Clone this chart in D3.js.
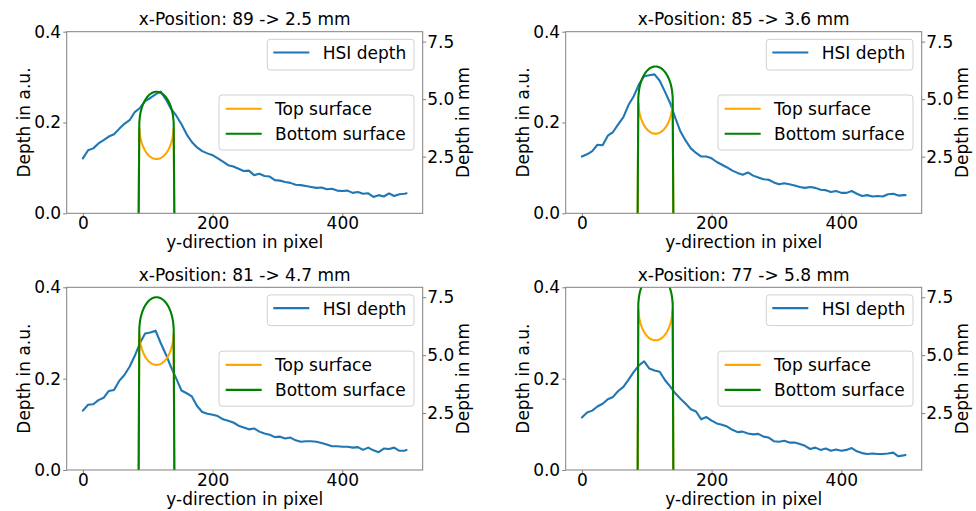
<!DOCTYPE html>
<html><head><meta charset="utf-8">
<script src="https://cdn.jsdelivr.net/npm/d3@7"></script>
<style>
body{margin:0;background:#fff;}
svg text{font-family:"DejaVu Sans",sans-serif;fill:#000;}
</style></head><body>
<svg id="chart" width="976" height="511"></svg>
<script>
// ---------- data ----------
const xPositions = [89, 85, 81, 77];
const depthLabelsMm = [2.5, 3.6, 4.7, 5.8];
const xTicks = [0, 200, 400];
const leftTicks = [0.0, 0.2, 0.4];
const rightTicks = [2.5, 5.0, 7.5];
const pixelGrid = [0,8,16,24,32,40,48,56,64,72,80,88,96,104,112,120,128,136,144,152,160,168,176,184,192,200,208,216,224,232,240,248,256,264,272,280,288,296,304,312,320,328,336,344,352,360,368,376,384,392,400,408,416,424,432,440,448,456,464,472,480,488,496,499];
const hsi89 = [0.121,0.139,0.143,0.154,0.161,0.169,0.174,0.186,0.197,0.205,0.223,0.232,0.247,0.254,0.262,0.268,0.251,0.230,0.215,0.196,0.174,0.157,0.145,0.137,0.132,0.128,0.121,0.114,0.106,0.103,0.098,0.093,0.094,0.084,0.087,0.082,0.081,0.073,0.072,0.069,0.067,0.063,0.062,0.060,0.058,0.056,0.057,0.053,0.054,0.050,0.049,0.050,0.045,0.047,0.043,0.044,0.036,0.040,0.037,0.044,0.038,0.042,0.043,0.044];
const hsi85 = [0.125,0.130,0.137,0.151,0.150,0.171,0.179,0.196,0.212,0.239,0.258,0.284,0.302,0.304,0.306,0.292,0.268,0.243,0.210,0.180,0.160,0.143,0.133,0.125,0.125,0.121,0.113,0.107,0.101,0.094,0.089,0.085,0.090,0.083,0.079,0.075,0.074,0.068,0.064,0.066,0.064,0.061,0.058,0.056,0.058,0.056,0.052,0.051,0.047,0.049,0.045,0.045,0.049,0.043,0.038,0.040,0.037,0.038,0.037,0.042,0.043,0.039,0.040,0.040];
const hsi81 = [0.130,0.143,0.144,0.153,0.158,0.173,0.175,0.195,0.208,0.226,0.250,0.278,0.299,0.301,0.305,0.278,0.253,0.225,0.200,0.174,0.168,0.161,0.140,0.127,0.123,0.121,0.118,0.111,0.108,0.104,0.097,0.093,0.089,0.091,0.084,0.080,0.077,0.072,0.073,0.069,0.071,0.065,0.062,0.063,0.063,0.062,0.059,0.056,0.052,0.052,0.051,0.051,0.049,0.050,0.044,0.049,0.043,0.039,0.047,0.046,0.049,0.042,0.042,0.044];
const hsi77 = [0.115,0.126,0.130,0.139,0.145,0.155,0.160,0.173,0.182,0.198,0.215,0.229,0.238,0.222,0.218,0.215,0.197,0.183,0.168,0.156,0.145,0.133,0.128,0.111,0.116,0.108,0.102,0.099,0.095,0.088,0.083,0.084,0.080,0.078,0.079,0.073,0.071,0.063,0.062,0.064,0.060,0.060,0.057,0.053,0.046,0.049,0.044,0.047,0.042,0.045,0.042,0.044,0.048,0.041,0.037,0.035,0.036,0.035,0.035,0.036,0.038,0.030,0.032,0.033];
// vessel cross-section (mm depth of centre, radius; pixel centre and half-width)
const vesselCenterMm = [3.86, 4.96, 6.04, 7.10];
const vesselRadiusMm = [1.46, 1.46, 1.46, 1.46];
const vesselCenterPx = [113.5, 113.5, 113.5, 113.5];
const vesselHalfWidthPx = [26.6, 26.6, 26.6, 26.6];

const hsiSeries = [hsi89, hsi85, hsi81, hsi77];

// ---------- layout ----------
const svg = d3.select("#chart");
const panels = [
  {left: 66.7, top: 31.7, w: 356, h: 181.6},
  {left: 565.7, top: 31.7, w: 356, h: 181.6},
  {left: 66.7, top: 287.3, w: 356, h: 182.7},
  {left: 565.7, top: 287.3, w: 356, h: 182.7}
];
const FS = 17;
const C_BLUE = "#1f77b4", C_ORANGE = "#ffa500", C_GREEN = "#008000";

panels.forEach((p, k) => {
  const g = svg.append("g").attr("transform", `translate(${p.left},${p.top})`);
  const x = d3.scaleLinear().domain([-24.95, 523.95]).range([0, p.w]);
  const yL = d3.scaleLinear().domain([0, 0.4]).range([p.h, 0]);
  const yR = d3.scaleLinear().domain([0.04, 7.93]).range([p.h, 0]);

  const clipId = "clip" + k;
  g.append("clipPath").attr("id", clipId).append("rect")
    .attr("x", 0).attr("y", 0).attr("width", p.w).attr("height", p.h);

  const plot = g.append("g").attr("clip-path", `url(#${clipId})`);

  // HSI depth
  const hsi = pixelGrid.map((px, i) => [px, hsiSeries[k][i]]);
  plot.append("path").datum(hsi)
    .attr("fill", "none").attr("stroke", C_BLUE).attr("stroke-width", 2.1)
    .attr("stroke-linejoin", "round").attr("stroke-linecap", "round")
    .attr("d", d3.line().x(d => x(d[0])).y(d => yL(d[1])));

  // surfaces (0 outside the vessel)
  const cx = vesselCenterPx[k], hw = vesselHalfWidthPx[k];
  const cm = vesselCenterMm[k], rm = vesselRadiusMm[k];
  const samples = d3.range(Math.floor(cx - hw) - 2, Math.ceil(cx + hw) + 3);
  const half = px => { const u = (px - cx) / hw; return Math.abs(u) < 1 ? Math.sqrt(1 - u * u) : null; };
  const topS = samples.map(px => { const s = half(px); return [px, s === null ? 0 : cm - rm * s]; });
  const botS = samples.map(px => { const s = half(px); return [px, s === null ? 0 : cm + rm * s]; });
  const lineR = d3.line().x(d => x(d[0])).y(d => yR(d[1]));
  plot.append("path").datum(topS).attr("fill", "none").attr("stroke", C_ORANGE)
    .attr("stroke-width", 2.1).attr("stroke-linejoin", "round").attr("d", lineR);
  plot.append("path").datum(botS).attr("fill", "none").attr("stroke", C_GREEN)
    .attr("stroke-width", 2.1).attr("stroke-linejoin", "round").attr("d", lineR);

  // spines
  g.append("rect").attr("x", 0).attr("y", 0).attr("width", p.w).attr("height", p.h)
    .attr("fill", "none").attr("stroke", "#808080").attr("stroke-width", 1);

  // axes
  const axB = g.append("g").attr("transform", `translate(0,${p.h})`)
    .call(d3.axisBottom(x).tickValues(xTicks).tickFormat(d3.format("d")).tickSize(3.5).tickPadding(3));
  const axL = g.append("g")
    .call(d3.axisLeft(yL).tickValues(leftTicks).tickFormat(d3.format(".1f")).tickSize(3.5).tickPadding(2));
  const axR = g.append("g").attr("transform", `translate(${p.w},0)`)
    .call(d3.axisRight(yR).tickValues(rightTicks).tickFormat(d3.format(".1f")).tickSize(3.5).tickPadding(1));
  [axB, axL, axR].forEach(a => {
    a.select(".domain").remove();
    a.selectAll(".tick line").attr("stroke", "#808080");
    a.selectAll(".tick text").attr("font-size", FS).attr("font-family", "DejaVu Sans").attr("fill", "#000");
  });
  axB.selectAll(".tick text").attr("dy", null).attr("y", 15.6).attr("dominant-baseline", "alphabetic");

  // titles & labels
  g.append("text").attr("x", p.w / 2).attr("y", -6.8).attr("text-anchor", "middle")
    .attr("font-size", FS).text(`x-Position: ${xPositions[k]} -> ${depthLabelsMm[k]} mm`);
  g.append("text").attr("x", p.w / 2).attr("y", p.h + 35).attr("text-anchor", "middle")
    .attr("font-size", FS).text("y-direction in pixel");
  g.append("text").attr("transform", `translate(${-37},${p.h / 2}) rotate(-90)`)
    .attr("text-anchor", "middle").attr("font-size", FS).text("Depth in a.u.");
  g.append("text").attr("transform", `translate(${p.w + 46},${p.h / 2}) rotate(-90)`)
    .attr("text-anchor", "middle").attr("font-size", FS).text("Depth in mm");

  // legend 1 (upper right)
  const l1 = g.append("g");
  l1.append("rect").attr("x", 200.6).attr("y", 7.6).attr("width", 146.7).attr("height", 30.7)
    .attr("rx", 3).attr("fill", "#fff").attr("fill-opacity", 0.8).attr("stroke", "#d0d0d0");
  l1.append("line").attr("x1", 206.6).attr("x2", 242.6).attr("y1", 20.8).attr("y2", 20.8)
    .attr("stroke", C_BLUE).attr("stroke-width", 2.1);
  l1.append("text").attr("x", 256).attr("y", 27.4).attr("font-size", FS).text("HSI depth");

  // legend 2 (center right)
  const cy = p.h / 2;
  const l2 = g.append("g");
  l2.append("rect").attr("x", 152.3).attr("y", cy - 27.5).attr("width", 195).attr("height", 55)
    .attr("rx", 3).attr("fill", "#fff").attr("fill-opacity", 0.8).attr("stroke", "#d0d0d0");
  [["Top surface", C_ORANGE, -13.8], ["Bottom surface", C_GREEN, 11.2]].forEach(([t, c, dy]) => {
    l2.append("line").attr("x1", 159).attr("x2", 195).attr("y1", cy + dy).attr("y2", cy + dy)
      .attr("stroke", c).attr("stroke-width", 2.1);
    l2.append("text").attr("x", 208.3).attr("y", cy + dy + 6.6).attr("font-size", FS).text(t);
  });
});
</script>
</body></html>
